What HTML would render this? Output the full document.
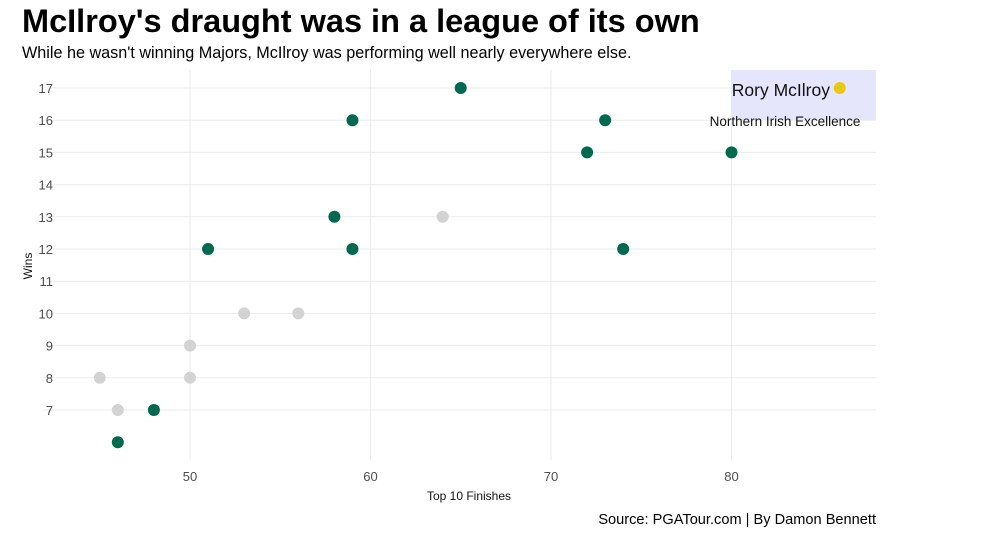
<!DOCTYPE html>
<html><head><meta charset="utf-8"><style>
body{margin:0;background:#fff;width:1008px;height:547px;overflow:hidden;font-family:"Liberation Sans",sans-serif}
</style></head><body>
<svg width="1008" height="547" xmlns="http://www.w3.org/2000/svg" font-family="Liberation Sans, sans-serif">
<text x="22" y="32" font-size="32.5" font-weight="bold" fill="#000">McIlroy's draught was in a league of its own</text>
<text x="22" y="58" font-size="16.2" fill="#000">While he wasn't winning Majors, McIlroy was performing well nearly everywhere else.</text>
<g id="grid"></g>
<rect x="731" y="70" width="145" height="50" fill="#e5e5fb"/>
<g id="marks"></g>
<text x="830" y="96" font-size="17.5" text-anchor="end" fill="#111">Rory McIlroy</text>
<text x="785" y="126" font-size="13.5" text-anchor="middle" fill="#111">Northern Irish Excellence</text>
<text x="469" y="500" font-size="12" text-anchor="middle" fill="#111">Top 10 Finishes</text>
<text transform="translate(32,266) rotate(-90)" font-size="12" text-anchor="middle" fill="#111">Wins</text>
<text x="876" y="524" font-size="14.6" text-anchor="end" fill="#000">Source: PGATour.com | By Damon Bennett</text>
</svg>
<script>
const xTicks=[50,60,70,80];
const yTicks=[7,8,9,10,11,12,13,14,15,16,17];
const greenX=[65,59,73,72,80,58,51,59,74,48,46];
const greenY=[17,16,16,15,15,13,12,12,12,7,6];
const grayX=[64,53,56,50,45,50,46];
const grayY=[13,10,10,9,8,8,7];
const roryX=[86];
const roryY=[17];
const NS="http://www.w3.org/2000/svg";
const xs=v=>190+(v-50)*18.05;
const ys=v=>88+(17-v)*32.2;
const grid=document.getElementById('grid'),marks=document.getElementById('marks');
function mk(p,tag,a){const e=document.createElementNS(NS,tag);for(const k in a)e.setAttribute(k,a[k]);p.appendChild(e);return e;}
xTicks.forEach(t=>{
const l=mk(grid,'line',{x1:xs(t),x2:xs(t),y1:70,y2:460,stroke:'#ebebeb','stroke-width':1});


const tx=mk(grid,'text',{x:xs(t),y:481,'font-size':13,'text-anchor':'middle',fill:'#4d4d4d'});tx.textContent=t;


});
yTicks.forEach(t=>{
const l=mk(grid,'line',{x1:43,x2:876,y1:ys(t),y2:ys(t),stroke:'#ebebeb','stroke-width':1});


const tx=mk(grid,'text',{x:53,y:ys(t)+5,'font-size':13,'text-anchor':'end',fill:'#4d4d4d'});tx.textContent=t;


});
function pts(X,Y,c,n){X.forEach((x,i)=>{const e=mk(marks,'circle',{cx:xs(x),cy:ys(Y[i]),r:6,fill:c});

});}
pts(grayX,grayY,'#d3d3d3','point-other');
pts(greenX,greenY,'#006a4e','point-golfer');
pts(roryX,roryY,'#e8c814','point-rory');
</script>
</body></html>
